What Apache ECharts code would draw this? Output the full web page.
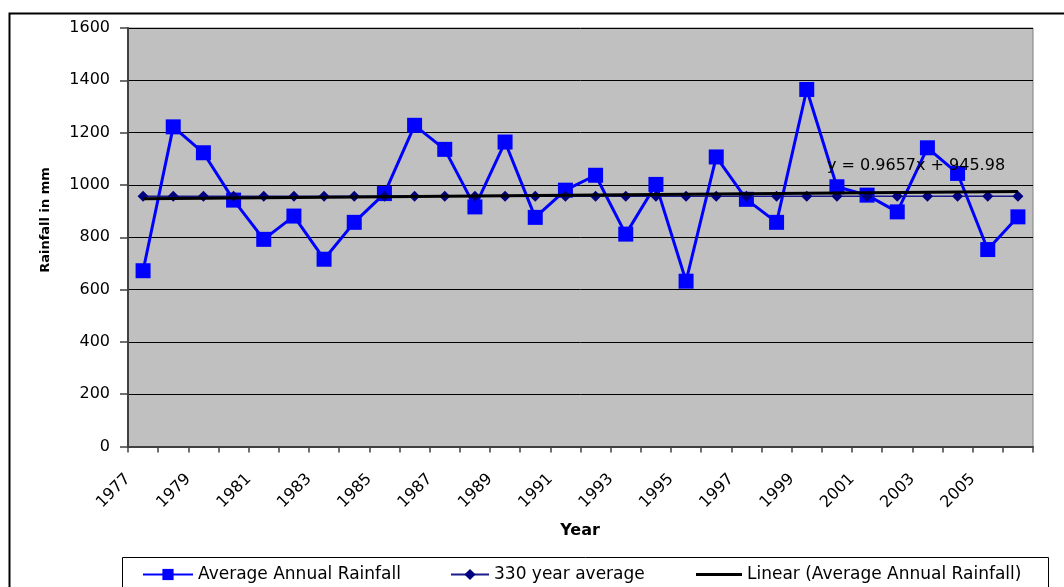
<!DOCTYPE html>
<html>
<head>
<meta charset="utf-8">
<script src="https://cdn.jsdelivr.net/npm/echarts@6/dist/echarts.min.js"></script>
<style>
  html, body { margin: 0; padding: 0; background: #fff; }
  #chart { width: 1064px; height: 587px; }
</style>
</head>
<body>
<div id="chart"></div>
<script>
// Annual rainfall record, 1977-2006
const years = ['1977','1978','1979','1980','1981','1982','1983','1984','1985','1986',
               '1987','1988','1989','1990','1991','1992','1993','1994','1995','1996',
               '1997','1998','1999','2000','2001','2002','2003','2004','2005','2006'];

// Average annual rainfall (mm)
const annualRainfall = [672, 1222, 1123, 942, 792, 881, 716, 857, 967, 1228,
                        1136, 916, 1164, 876, 980, 1037, 812, 1002, 632, 1107,
                        945, 857, 1365, 993, 961, 897, 1142, 1044, 753, 878];

// Long-term (330 year) average, drawn as a flat reference line
const longTermAverage = [957, 957, 957, 957, 957, 957, 957, 957, 957, 957,
                         957, 957, 957, 957, 957, 957, 957, 957, 957, 957,
                         957, 957, 957, 957, 957, 957, 957, 957, 957, 957];

// Linear trend of the annual rainfall: y = slope * x + intercept, x = 1..n
const trendSlope = 0.9657;
const trendIntercept = 945.98;
const trendLine = years.map((_, i) => +(trendSlope * (i + 1) + trendIntercept).toFixed(2));

// Value-axis range
const yMin = 0, yMax = 1600, yStep = 200;

// Year labels sit on the band boundaries, so they get their own axis
const boundaryLabels = years.concat(['']);

const FONT = '"DejaVu Sans", "Liberation Sans", Arial, sans-serif';
const equationText = 'y = ' + trendSlope + 'x + ' + trendIntercept;

const chart = echarts.init(document.getElementById('chart'));

const legendBase = {
  orient: 'horizontal',
  padding: 0,
  top: 566,
  textStyle: { fontFamily: FONT, fontSize: 17, color: '#000' },
  selectedMode: false
};

chart.setOption({
  animation: false,
  backgroundColor: '#fff',
  textStyle: { fontFamily: FONT },
  grid: {
    left: 128, right: 31, top: 28, bottom: 140.5,
    show: true, backgroundColor: '#c0c0c0',
    borderColor: '#808080', borderWidth: 1
  },
  xAxis: [
    {
      type: 'category',
      data: years,
      boundaryGap: true,
      position: 'bottom',
      axisLine: { lineStyle: { color: '#404040', width: 2 } },
      axisTick: { show: true, interval: 0, length: 6, lineStyle: { color: '#404040', width: 1.5 } },
      axisLabel: { show: false },
      splitLine: { show: false }
    },
    {
      type: 'category',
      data: boundaryLabels,
      boundaryGap: false,
      position: 'bottom',
      axisLine: { show: false },
      axisTick: { show: false },
      splitLine: { show: false },
      axisLabel: {
        interval: 1,
        rotate: 45,
        margin: 30,
        fontSize: 16,
        color: '#000',
        fontFamily: FONT
      }
    }
  ],
  yAxis: {
    type: 'value',
    min: yMin, max: yMax, interval: yStep,
    axisLine: { show: true, lineStyle: { color: '#404040', width: 2 } },
    axisTick: { show: true, length: 8, lineStyle: { color: '#404040', width: 1.5 } },
    axisLabel: { margin: 18, fontSize: 16, color: '#000', fontFamily: FONT,
                 formatter: v => String(v) },
    splitLine: { show: true, lineStyle: { color: '#000', width: 1 } }
  },
  legend: [
    Object.assign({}, legendBase, { left: 142, itemWidth: 50, itemHeight: 14,
                                    data: ['Average Annual Rainfall'] }),
    Object.assign({}, legendBase, { left: 450, itemWidth: 38, itemHeight: 14,
                                    data: ['330 year average'] }),
    Object.assign({}, legendBase, { left: 696, itemWidth: 46, itemHeight: 3,
                                    data: [{ name: 'Linear (Average Annual Rainfall)', icon: 'rect' }] })
  ],
  graphic: [
    // outer chart frame
    { type: 'rect', left: 7, top: 11, silent: true,
      shape: { x: 0, y: 0, width: 1100, height: 700 },
      style: { fill: 'none', stroke: '#000', lineWidth: 2 } },
    // legend frame
    { type: 'rect', left: 122, top: 557, silent: true,
      shape: { x: 0, y: 0, width: 926, height: 60 },
      style: { fill: '#fff', stroke: '#000', lineWidth: 1 }, z: -1 },
    // axis titles
    { type: 'text', x: 580, y: 531, silent: true,
      style: { text: 'Year', font: 'bold 16px ' + FONT, fill: '#000',
               textAlign: 'center', textVerticalAlign: 'middle' } },
    { type: 'text', x: 46, y: 220, rotation: Math.PI / 2, silent: true,
      style: { text: 'Rainfall in mm', font: 'bold 13px ' + FONT, fill: '#000',
               textAlign: 'center', textVerticalAlign: 'middle' } },
    // trend equation
    { type: 'text', x: 827, y: 166, silent: true, z: 10,
      style: { text: equationText, font: '16px ' + FONT, fill: '#000',
               textAlign: 'left', textVerticalAlign: 'middle' } }
  ],
  series: [
    {
      name: 'Average Annual Rainfall',
      type: 'line',
      data: annualRainfall,
      symbol: 'rect',
      symbolSize: 15,
      lineStyle: { color: '#0000ff', width: 3 },
      itemStyle: { color: '#0000ff' },
      z: 2
    },
    {
      name: '330 year average',
      type: 'line',
      data: longTermAverage,
      symbol: 'diamond',
      symbolSize: 11,
      lineStyle: { color: '#1a1a8c', width: 1.5 },
      itemStyle: { color: '#000080' },
      z: 3
    },
    {
      name: 'Linear (Average Annual Rainfall)',
      type: 'line',
      data: trendLine,
      symbol: 'none',
      lineStyle: { color: '#000', width: 3 },
      itemStyle: { color: '#000' },
      z: 4
    }
  ]
});
</script>
</body>
</html>
